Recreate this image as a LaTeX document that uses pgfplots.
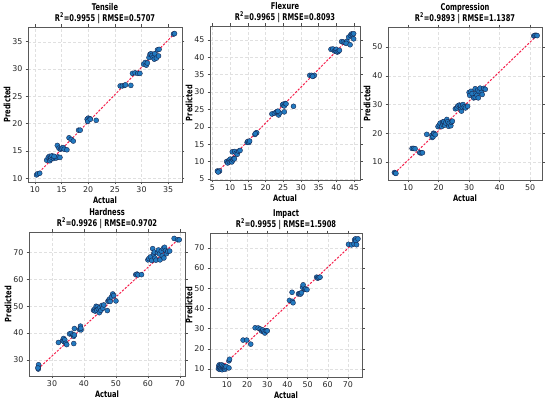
\documentclass[border=0pt]{standalone}
\usepackage{fontspec}
\setmainfont{DejaVu Sans}
\newfontfamily\condfont[FakeStretch=0.72]{DejaVu Sans}
\newfontfamily\labfont[FakeStretch=0.76]{DejaVu Sans}
\usepackage{pgfplots}
\pgfplotsset{compat=1.18}
\definecolor{ptblue}{RGB}{34,122,192}
\definecolor{ptedge}{RGB}{20,30,70}
\definecolor{diagred}{RGB}{245,30,75}
\pgfplotsset{
  panel/.style={
    scale only axis, anchor=south west,
    axis line style={black!65, line width=0.7pt},
    grid=major, major grid style={black!12, line width=0.4pt, densely dashed},
    tick align=outside, major tick length=2.5pt,
    tick style={black!70, line width=0.5pt},
    ticklabel style={font=\fontsize{7.9}{8}\selectfont, color=black!85},
    /pgf/number format/assume math mode=true,
    xlabel={Actual}, ylabel={Predicted},
    label style={font=\labfont\bfseries\fontsize{8.8}{9}\selectfont},
    xlabel style={yshift=3.5pt},
    ylabel style={yshift=-5pt},
    title style={font=\condfont\bfseries\fontsize{9.3}{11.5}\selectfont, align=center, yshift=-6.5pt},
    xticklabel style={yshift=1pt},
    yticklabel style={xshift=0.5pt},
  },
  pts/.style={only marks, mark=*, mark size=2.5pt, mark options={fill=ptblue, draw=ptedge, line width=0.35pt}},
  diag/.style={diagred, line width=1pt, dash pattern=on 2.2pt off 1.5pt},
}
\begin{document}
\begin{tikzpicture}
\useasboundingbox (0,0) rectangle (550pt,402pt);
% Tensile
\begin{axis}[panel, at={(28pt,220pt)}, width=154pt, height=155pt,
  xmin=8.7, xmax=37.6, ymin=9.3, ymax=37.7,
  xtick={10,15,...,35}, ytick={10,15,...,35},
  title={Tensile\\R\textsuperscript{2}=0.9955 | RMSE=0.5707}]
\addplot[diag] coordinates {(10.3,10.6) (36.2,36.5)};
\addplot[pts] table {
10.3 10.6
10.5 10.8
10.9 10.9
12.2 13.3
12.5 13.8
12.7 14.0
12.8 13.2
13.0 13.5
13.0 13.9
13.2 14.1
13.5 13.6
13.8 13.8
14.0 13.7
14.3 13.9
14.7 13.8
13.6 14.0
14.2 16.0
14.5 15.5
14.8 15.3
15.0 15.5
15.3 15.6
15.5 15.3
16.0 15.2
16.4 17.4
16.8 17.1
17.2 16.8
18.2 18.8
18.5 18.8
19.8 20.8
20.0 21.0
20.3 20.9
19.9 20.4
20.4 20.8
21.5 20.6
26.0 26.9
26.4 26.9
26.8 27.0
27.0 27.1
28.0 27.0
28.3 29.2
28.8 29.3
29.3 29.2
29.7 29.2
30.4 30.9
30.7 31.2
30.9 30.7
31.1 31.1
31.4 32.1
31.6 32.7
31.8 32.8
32.0 32.5
32.2 32.1
32.4 31.8
32.5 32.8
32.8 32.0
33.0 33.5
33.3 33.6
33.2 32.4
36.0 36.4
36.2 36.5
};
\end{axis}
% Flexure
\begin{axis}[panel, at={(210pt,222pt)}, width=150pt, height=154pt,
  xmin=4.3, xmax=46.7, ymin=4.7, ymax=49.0,
  xtick={5,10,...,45}, ytick={5,10,...,45},
  title={Flexure\\R\textsuperscript{2}=0.9965 | RMSE=0.8093}]
\addplot[diag] coordinates {(6.4,7.0) (44.9,46.8)};
\addplot[pts] table {
6.4 7.3
6.7 7.1
7.0 7.3
6.6 7.0
9.0 10.0
9.3 9.6
9.6 10.3
9.8 9.9
10.0 10.7
10.3 10.1
10.5 9.9
10.8 10.5
11.0 10.9
11.2 10.8
10.6 12.8
11.3 12.9
11.7 12.4
12.0 12.1
12.4 13.0
12.8 13.2
14.8 15.5
15.0 15.8
15.3 15.5
15.5 15.9
17.0 17.8
17.3 18.2
17.5 18.3
17.1 18.0
21.8 23.7
22.5 23.9
23.0 24.2
23.3 24.4
23.7 23.4
24.0 24.0
23.5 24.5
24.8 26.3
25.0 26.5
25.3 26.0
25.6 26.7
25.8 26.6
25.3 24.3
27.9 25.9
32.5 34.8
33.0 34.8
33.5 34.6
33.8 34.8
33.3 34.5
38.5 42.3
39.0 42.4
39.5 41.8
39.8 42.0
40.0 42.3
40.3 41.5
40.6 41.7
40.9 42.0
41.5 44.5
42.0 44.4
42.5 44.2
43.0 44.6
42.8 44.0
43.5 45.8
44.0 46.3
44.3 46.7
44.6 46.5
44.9 46.8
44.9 45.3
43.9 43.6
};
\end{axis}
% Compression
\begin{axis}[panel, at={(388pt,222pt)}, width=154pt, height=153pt,
  xmin=3.4, xmax=53.9, ymin=3.7, ymax=57,
  xtick={10,20,...,50}, ytick={10,20,...,50},
  title={Compression\\R\textsuperscript{2}=0.9893 | RMSE=1.1387}]
\addplot[diag] coordinates {(5.5,6.0) (52.3,54.1)};
\addplot[pts] table {
5.5 6.3
5.8 6.1
6.0 6.0
11.3 14.7
11.8 14.7
12.3 14.6
13.8 13.2
14.3 13.1
14.7 13.2
16.1 19.6
17.8 19.3
17.9 18.5
18.2 18.8
18.3 20.0
18.5 19.9
18.9 19.5
19.8 22.3
20.2 22.8
20.5 23.5
21.0 22.3
21.3 23.9
21.5 23.0
21.7 24.0
22.0 22.8
22.3 23.6
22.7 24.8
23.0 24.0
23.3 22.4
23.5 23.5
24.0 22.6
24.2 23.8
24.5 24.2
25.5 28.5
26.0 28.8
26.3 29.5
26.8 29.8
27.2 28.5
27.3 29.6
27.5 27.7
27.8 29.0
28.0 30.0
28.4 29.2
28.8 28.8
29.5 29.4
30.0 34.2
30.2 33.2
30.6 34.6
31.0 33.8
31.5 32.3
32.0 35.5
32.0 32.5
32.3 33.9
32.6 33.2
32.8 35.0
33.0 32.3
33.3 34.5
33.6 35.7
34.0 34.2
34.3 33.5
34.8 35.6
35.3 35.3
51.2 53.9
51.6 54.1
52.0 54.1
52.3 54.0
};
\end{axis}
% Hardness
\begin{axis}[panel, at={(29pt,26pt)}, width=156pt, height=144pt,
  xmin=22.8, xmax=71.6, ymin=24, ymax=77.7,
  xtick={30,40,...,70}, ytick={30,40,...,70},
  title={Hardness\\R\textsuperscript{2}=0.9926 | RMSE=0.9702}]
\addplot[diag] coordinates {(25.6,26.6) (69.8,75.3)};
\addplot[pts] table {
25.7 26.6
25.7 27.3
25.8 28.2
25.6 27.0
32.0 36.5
33.3 37.2
33.6 38.0
33.8 36.8
34.0 37.5
34.3 36.2
34.6 35.7
35.5 39.7
36.0 39.9
36.5 39.3
36.8 38.8
37.0 39.3
36.8 36.1
37.0 41.7
38.6 41.3
38.9 42.6
39.1 41.2
39.0 41.8
43.0 48.5
43.3 48.9
43.5 48.2
43.8 50.0
44.0 48.5
44.2 49.8
44.5 49.0
44.8 47.6
45.0 49.5
45.3 48.5
45.6 50.3
45.9 49.3
46.2 50.5
47.3 48.4
47.5 51.9
47.8 52.3
48.0 52.7
48.2 51.8
48.6 53.5
49.0 54.6
49.3 54.0
50.0 52.0
56.2 61.8
56.6 62.0
56.9 61.7
58.0 61.8
60.0 67.3
60.3 67.8
60.8 68.4
61.2 67.1
61.5 71.5
61.8 69.5
62.0 70.2
62.2 68.0
62.5 67.2
63.0 70.0
63.3 71.0
63.6 69.5
63.8 67.3
64.2 70.6
64.5 68.8
64.8 71.5
65.0 68.0
65.2 72.0
65.5 70.8
65.8 69.6
66.2 70.5
66.8 70.6
68.2 75.3
69.3 74.8
69.8 74.8
};
\end{axis}
% Impact
\begin{axis}[panel, at={(210pt,25pt)}, width=152pt, height=144pt,
  xmin=1.6, xmax=77, ymin=6, ymax=77.4,
  xtick={10,20,...,70}, ytick={10,20,...,70},
  title={Impact\\R\textsuperscript{2}=0.9955 | RMSE=1.5908}]
\addplot[diag] coordinates {(5.8,9.6) (75,74.5)};
\addplot[pts] table {
5.8 10.2
6.0 11.5
6.2 12.0
6.3 9.8
6.5 10.8
6.8 11.8
7.0 10.0
7.3 11.2
7.5 12.0
7.6 9.6
7.9 10.5
8.2 11.5
8.5 10.2
8.8 11.0
9.0 9.8
9.3 10.6
9.6 11.2
11.0 10.5
11.0 14.0
11.3 14.8
18.0 24.3
19.8 24.3
21.8 22.3
24.0 30.4
25.5 30.3
26.5 29.8
27.2 28.8
27.8 29.3
28.3 28.4
28.8 27.8
29.5 28.9
30.0 28.9
41.0 44.0
42.3 48.0
42.5 43.5
42.8 42.8
45.5 47.2
46.0 47.4
46.5 47.1
47.0 47.8
47.5 50.5
47.8 51.7
48.5 49.5
49.0 49.7
49.7 49.3
54.5 55.5
55.0 55.0
55.5 55.3
56.2 55.5
70.3 71.8
71.8 71.5
73.0 72.0
73.3 74.0
73.8 74.5
74.0 73.5
74.3 71.6
75.0 74.5
};
\end{axis}
\end{tikzpicture}
\end{document}
